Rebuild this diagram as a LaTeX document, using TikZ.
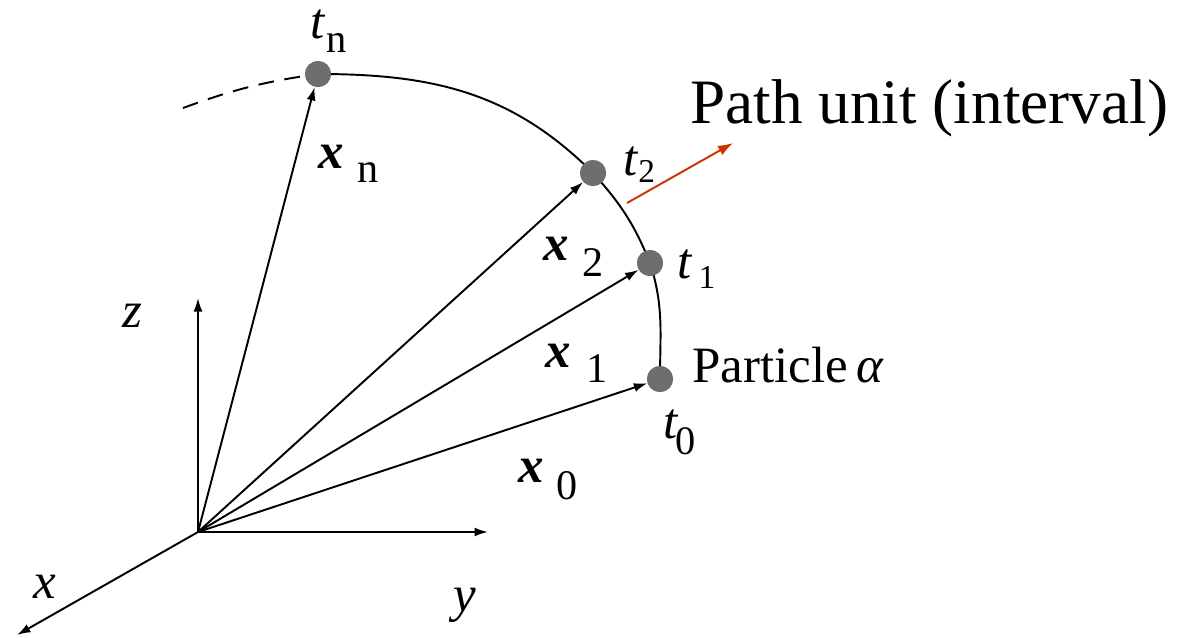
\documentclass[tikz,border=0pt]{standalone}
\usepackage{fontspec}
\setmainfont{Liberation Serif}
\usetikzlibrary{arrows.meta}
\definecolor{dotgray}{HTML}{6E6E6E}
\definecolor{pathred}{HTML}{CC3300}
\newcommand\mytl[4]{{\itshape t}\kern#2\raisebox{-#3}{\fontsize{#1}{#1}\selectfont #4}}
\newcommand\myxl[4]{{\bfseries\itshape x}\kern#2\raisebox{-#3}{\fontsize{#1}{#1}\selectfont #4}}
\begin{document}
\begin{tikzpicture}[x=0.02cm,y=0.02cm,
  dot/.style={circle,fill=dotgray,minimum size=0.52cm,inner sep=0pt},
  vec/.style={-{Latex[length=0.27cm,width=0.18cm]},line width=1.1pt},
  lbl/.style={anchor=base west,inner sep=0pt,font=\fontsize{29}{29}\selectfont},
  arcline/.style={line width=1.1pt}]
\useasboundingbox (0,0) rectangle (1179,-637);
% origin and axes
\coordinate (O) at (198,-532);
\coordinate (zend) at (198,-298);
\coordinate (yend) at (488,-532);
\coordinate (xend) at (17,-635);
\draw[vec] (O) -- (zend);
\draw[vec] (O) -- (yend);
\draw[vec] (O) -- (xend);
% path arc
\node[dot] (tn) at (318,-74) {};
\node[dot] (t2) at (593,-173) {};
\node[dot] (t1) at (650,-263) {};
\node[dot] (t0) at (660,-379) {};
\coordinate (dstart) at (183,-108);
\draw[arcline,dash pattern=on 9pt off 6pt] (dstart) to[bend left=6] (tn.center);
\draw[arcline] (tn.center) to[out=0,in=135] (t2.center)
  to[out=-48,in=112] (t1.center)
  to[out=-72,in=90] (t0.center);
% redraw dots on top
\node[dot] at (tn) {};
\node[dot] at (t2) {};
\node[dot] at (t1) {};
\node[dot] at (t0) {};
% position vectors
\draw[vec] (O) -- (tn);
\draw[vec] (O) -- (t2);
\draw[vec] (O) -- (t1);
\draw[vec] (O) -- (t0);
% red arrow
\coordinate (rs) at (627,-203);
\coordinate (re) at (733,-143);
\draw[-{Latex[length=0.3cm,width=0.21cm]},line width=1.1pt,pathred] (rs) -- (re);
% labels
\node[lbl] (ltn) at (310,-38) {\mytl{23}{1pt}{8pt}{n}};
\node[lbl] (lxn) at (318,-168) {\myxl{24}{8pt}{8.5pt}{n}};
\node[lbl] (lt2) at (623,-175) {\mytl{19}{0.5pt}{4.5pt}{2}};
\node[lbl] (lx2) at (543,-260) {\myxl{24}{8pt}{9.5pt}{2}};
\node[lbl] (lt1) at (677,-278) {\mytl{19}{4pt}{5.7pt}{1}};
\node[lbl] (lx1) at (545,-367) {\myxl{24}{9pt}{9pt}{1}};
\node[lbl] (lt0) at (663,-438) {\mytl{23}{-1pt}{9.5pt}{0}};
\node[lbl] (lx0) at (518,-482) {\myxl{24}{7pt}{10pt}{0}};
\node[lbl] (lpa) at (692,-382) {Particle\,{\itshape α}};
\node[lbl,font=\fontsize{36}{36}\selectfont] (lpath) at (690,-123) {Path unit (interval)};
\node[lbl] (lz) at (122,-327) {\itshape z};
\node[lbl] (lx) at (33,-598) {\itshape x};
\node[lbl] (ly) at (453,-611) {\itshape y};
\end{tikzpicture}
\end{document}
